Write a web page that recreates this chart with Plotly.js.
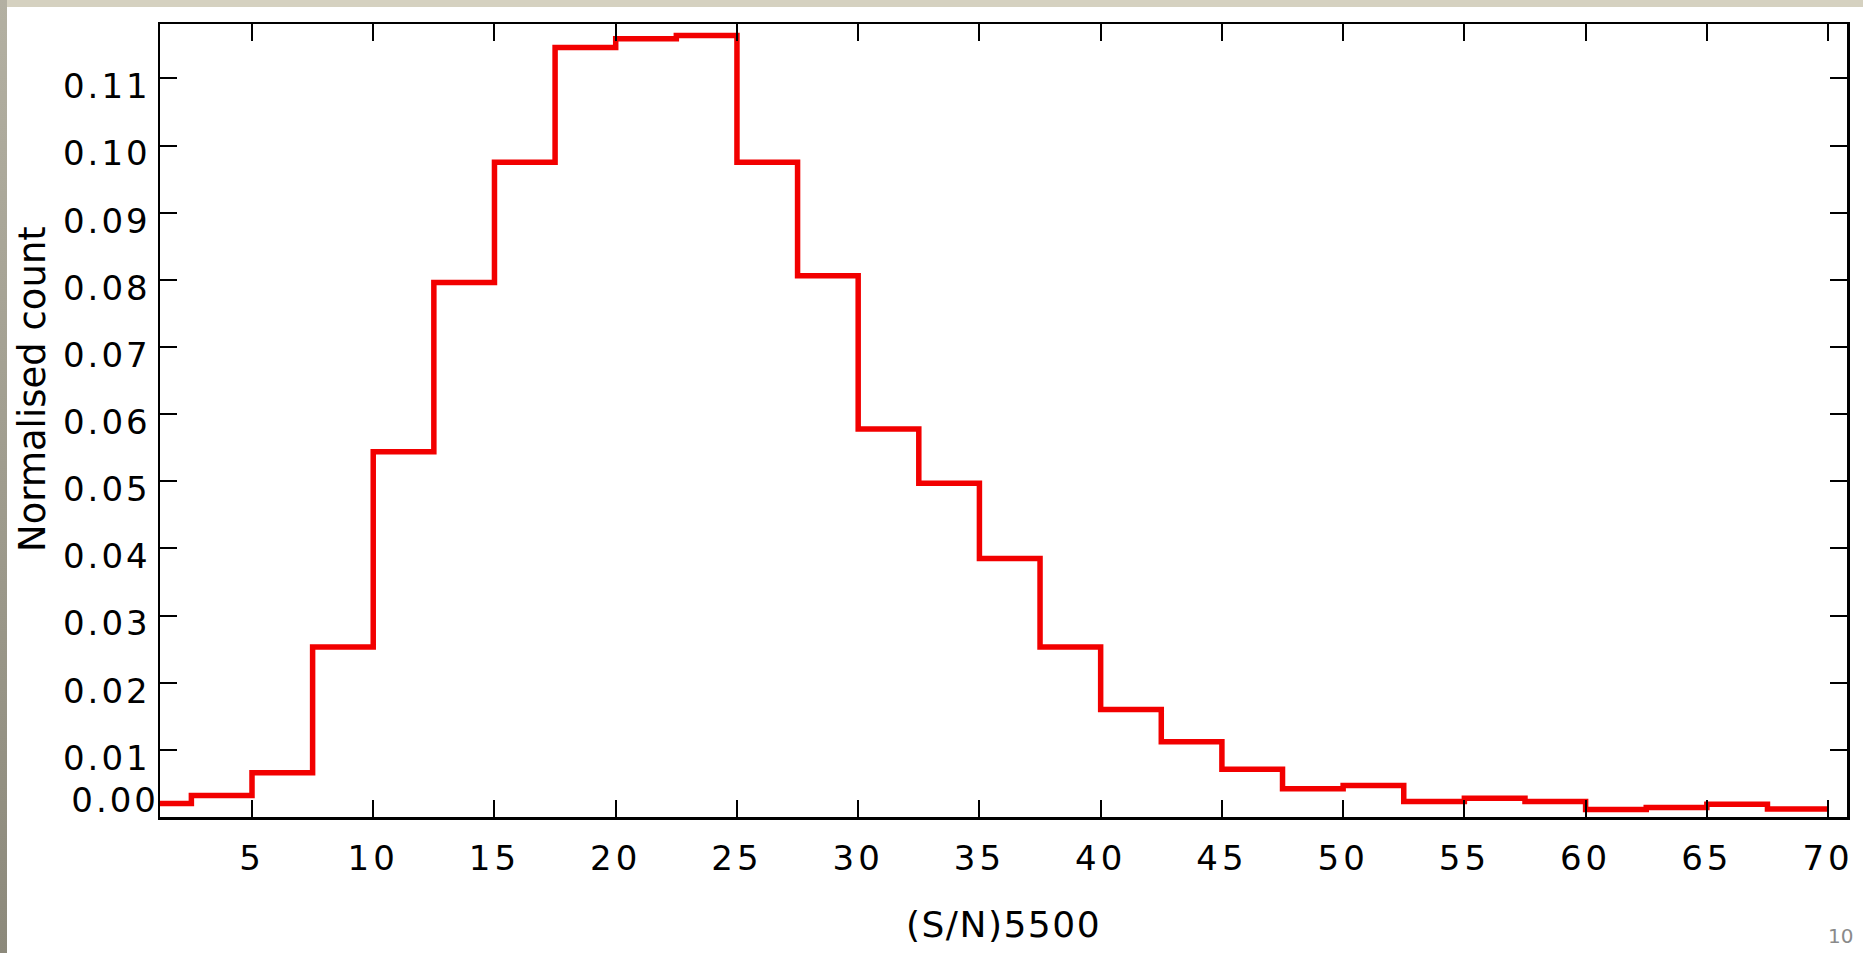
<!DOCTYPE html>
<html>
<head>
<meta charset="utf-8">
<script src="https://cdn.plot.ly/plotly-3.0.1.min.js"></script>
<style>
  html, body { margin: 0; padding: 0; width: 1863px; height: 953px; overflow: hidden; background: #d5d1c0; }
  #strip { position: absolute; left: 0; top: 0; width: 7px; height: 953px; background: linear-gradient(#b3b0a2, #8c897b); }
  #chart { position: absolute; left: 7px; top: 7px; width: 1856px; height: 946px; background: #ffffff; }
  #chart .xtick text { letter-spacing: 4px; }
  #chart .ytick text, #chart .y2tick text { letter-spacing: 3px; }
  #chart .g-xtitle text { letter-spacing: 1.5px; }
</style>
</head>
<body>
<div id="strip"></div>
<div id="chart"></div>
<script>
// Histogram bin edges of (S/N)5500
const binEdges = [0, 2.5, 5, 7.5, 10, 12.5, 15, 17.5, 20, 22.5, 25, 27.5, 30, 32.5, 35,
                  37.5, 40, 42.5, 45, 47.5, 50, 52.5, 55, 57.5, 60, 62.5, 65, 67.5, 70];
// Normalised count per bin (one value per bin)
const normCount = [0.0020, 0.0032, 0.0066, 0.0253, 0.0544, 0.0796, 0.0975, 0.1146,
                   0.1159, 0.1164, 0.0975, 0.0806, 0.0578, 0.0497, 0.0385, 0.0253,
                   0.0160, 0.0112, 0.0071, 0.0042, 0.0047, 0.0023, 0.0028, 0.0023,
                   0.0011, 0.0014, 0.0019, 0.0012];
// Tick labels
const xTickVals = [5, 10, 15, 20, 25, 30, 35, 40, 45, 50, 55, 60, 65, 70];
const xTickText = ['5', '10', '15', '20', '25', '30', '35', '40', '45', '50', '55', '60', '65', '70'];
const yTickVals = [0.01, 0.02, 0.03, 0.04, 0.05, 0.06, 0.07, 0.08, 0.09, 0.10, 0.11];
const yTickText = ['0.01', '0.02', '0.03', '0.04', '0.05', '0.06', '0.07', '0.08', '0.09', '0.10', '0.11'];
const yZeroVals = [0];
const yZeroText = ['0.00'];
const xTitle = '(S/N)5500';
const yTitle = 'Normalised count';
const pageNumber = '10';

const stepY = normCount.concat([normCount[normCount.length - 1]]);

const FONT = 'DejaVu Sans, Verdana, sans-serif';
const xRange = [1.206, 70.78];
const yRange = [0, 0.1181];

const trace = {
  x: binEdges,
  y: stepY,
  type: 'scatter',
  mode: 'lines',
  line: { shape: 'hv', color: '#f20000', width: 5.5 },
  hoverinfo: 'x+y',
  showlegend: false
};

// empty trace so that the overlaid axis carrying the "0.00" label is drawn
const zeroAxisTrace = {
  x: [null],
  y: [null],
  type: 'scatter',
  mode: 'lines',
  yaxis: 'y2',
  hoverinfo: 'skip',
  showlegend: false
};

const axisCommon = {
  ticks: 'inside',
  ticklen: 17,
  tickwidth: 2,
  tickcolor: '#000000',
  showline: true,
  linecolor: '#000000',
  linewidth: 2.5,
  mirror: 'ticks',
  showgrid: false,
  zeroline: false,
  tickmode: 'array',
  tickfont: { family: FONT, size: 34, color: '#000000' }
};

const layout = {
  width: 1856,
  height: 946,
  margin: { l: 153, r: 16, t: 17, b: 136, pad: 0 },
  paper_bgcolor: '#ffffff',
  plot_bgcolor: '#ffffff',
  showlegend: false,
  xaxis: Object.assign({}, axisCommon, {
    range: xRange,
    tickvals: xTickVals,
    ticktext: xTickText,
    ticklabelstandoff: 10,
    title: { text: xTitle, font: { family: FONT, size: 36, color: '#000000' }, standoff: 35 }
  }),
  yaxis: Object.assign({}, axisCommon, {
    range: yRange,
    tickvals: yTickVals,
    ticktext: yTickText,
    ticklabelshift: 8
  }),
  yaxis2: {
    overlaying: 'y',
    side: 'left',
    anchor: 'x',
    range: yRange,
    tickmode: 'array',
    tickvals: yZeroVals,
    ticktext: yZeroText,
    ticks: '',
    showline: false,
    showgrid: false,
    zeroline: false,
    ticklabelshift: -17,
    tickfont: { family: FONT, size: 34, color: '#000000' }
  },
  annotations: [
    {
      text: yTitle,
      xref: 'paper', yref: 'paper',
      x: -0.0759, y: 0.5397,
      xanchor: 'center', yanchor: 'middle',
      textangle: -90,
      showarrow: false,
      font: { family: FONT, size: 37, color: '#000000' }
    },
    {
      text: pageNumber,
      xref: 'paper', yref: 'paper',
      x: 1.0047, y: -0.1324,
      xanchor: 'right', yanchor: 'top',
      showarrow: false,
      font: { family: FONT, size: 20, color: '#8a8a8a' }
    }
  ]
};

Plotly.newPlot('chart', [trace, zeroAxisTrace], layout, { displayModeBar: false, staticPlot: true });
</script>
</body>
</html>
